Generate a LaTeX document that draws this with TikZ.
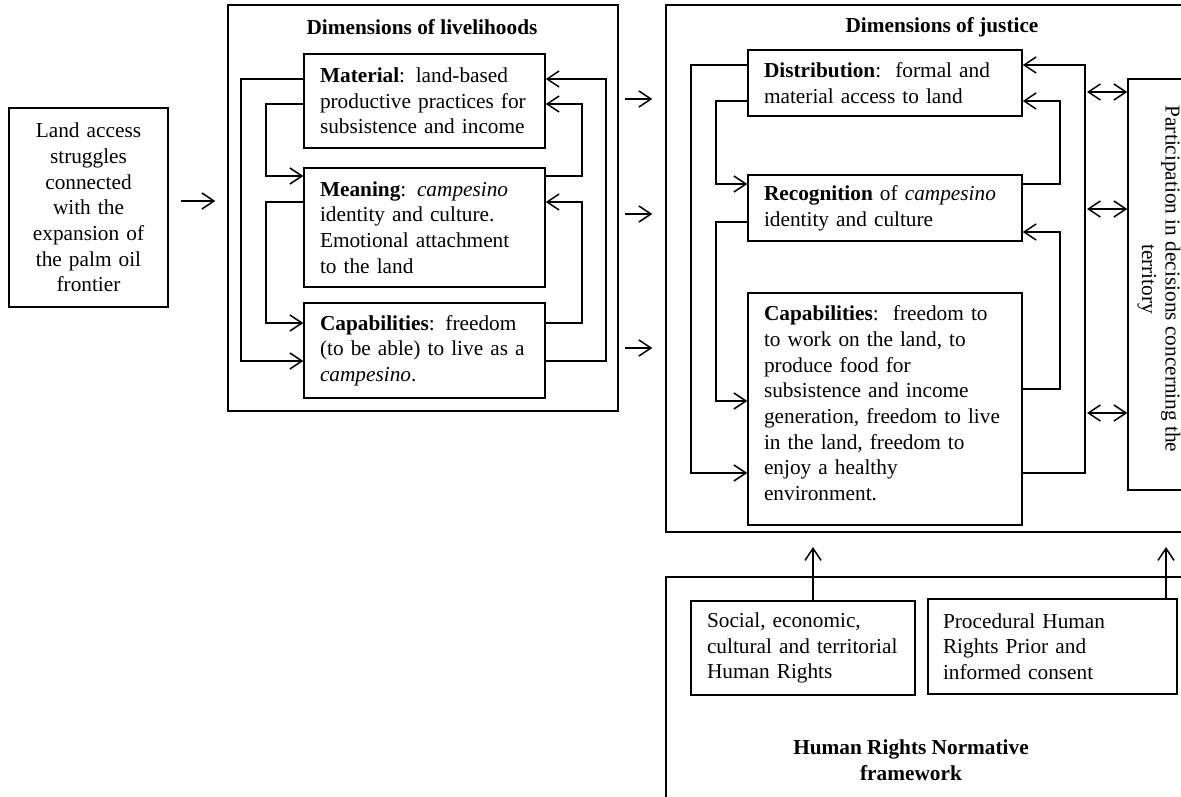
\documentclass[tikz,border=0pt]{standalone}
\usepackage{fontspec}
\setmainfont{Liberation Serif}
\usetikzlibrary{arrows.meta}
\begin{document}
\begin{tikzpicture}[x=1pt, y=-1pt,
  every node/.style={font=\fontsize{21.3}{25.7}\selectfont},
  frame/.style={draw, line width=1.5pt, inner sep=0pt},
  lbox/.style={draw, line width=1.5pt, inner xsep=16pt, inner ysep=0pt, align=left},
  cbox/.style={draw, line width=1.5pt, inner xsep=16pt, inner ysep=0pt, align=center},
  title/.style={font=\bfseries\fontsize{21.3}{25.7}\selectfont, align=center},
  link/.style={-{Straight Barb[length=12pt,width=16pt]}, line width=1.5pt},
  dlink/.style={{Straight Barb[length=12pt,width=16pt]}-{Straight Barb[length=12pt,width=16pt]}, line width=1.5pt}
]
\path[use as bounding box, fill=white] (0,0) rectangle (1181,797);
\clip (0,0) rectangle (1181,797);

% starting point
\node[cbox, minimum width=159pt, text width=127pt, minimum height=199pt] (land) at (88.5,207.5)
  {Land access\\struggles\\connected\\with the\\expansion of\\the palm oil\\frontier};

% livelihoods
\node[frame, minimum width=390pt, minimum height=406pt] (liv) at (423,208) {};
\node[title] (livt) at (422,27) {Dimensions of livelihoods};
\node[lbox, minimum width=241pt, text width=209pt, minimum height=94pt] (mat) at (424.5,101)
  {\textbf{Material}: land-based\\productive practices for\\subsistence and income};
\node[lbox, minimum width=241pt, text width=209pt, minimum height=119pt] (mea) at (424.5,227.5)
  {\textbf{Meaning}: \textit{campesino}\\identity and culture.\\Emotional attachment\\to the land};
\node[lbox, minimum width=241pt, text width=209pt, minimum height=95pt] (capa) at (424.5,350.5)
  {\textbf{Capabilities}: freedom\\(to be able) to live as a\\\textit{campesino}.};

\draw[link] (mat.west |- 0,79) -| (241,361) -- (capa.west |- 0,361);
\draw[link] (mat.west |- 0,104) -| (266,176) -- (mea.west |- 0,176);
\draw[link] (mea.west |- 0,202) -| (266,323) -- (capa.west |- 0,323);
\draw[link] (capa.east |- 0,361) -| (606,79) -- (mat.east |- 0,79);
\draw[link] (mea.east |- 0,176) -| (582,104) -- (mat.east |- 0,104);
\draw[link] (capa.east |- 0,323) -| (582,202) -- (mea.east |- 0,202);

% justice
\node[frame, minimum width=540pt, minimum height=527pt] (jus) at (936,268.5) {};
\node[title] (just) at (942,27) {Dimensions of justice};
\node[lbox, minimum width=274pt, text width=242pt, minimum height=66pt] (dist) at (885,83)
  {\textbf{Distribution}:\, formal and\\material access to land};
\node[lbox, minimum width=274pt, text width=242pt, minimum height=66pt] (rec) at (885,208)
  {\textbf{Recognition} of \textit{campesino}\\identity and culture};
\node[lbox, minimum width=274pt, text width=242pt, minimum height=232pt] (capb) at (885,409)
  {\textbf{Capabilities}:\, freedom to\\to work on the land, to\\produce food for\\subsistence and income\\generation, freedom to live\\in the land, freedom to\\enjoy a healthy\\environment.\\[-14pt]\mbox{}};

\draw[link] (dist.west |- 0,65) -| (691,473) -- (capb.west |- 0,473);
\draw[link] (dist.west |- 0,101) -| (716,184) -- (rec.west |- 0,184);
\draw[link] (rec.west |- 0,222) -| (716,401) -- (capb.west |- 0,401);
\draw[link] (capb.east |- 0,473) -| (1085,65) -- (dist.east |- 0,65);
\draw[link] (rec.east |- 0,184) -| (1060,101) -- (dist.east |- 0,101);
\draw[link] (capb.east |- 0,389) -| (1060,232) -- (rec.east |- 0,232);

% participation
\node[frame, minimum width=70pt, minimum height=411pt] (part) at (1163,284.5) {};
\node[rotate=-90, align=center, font=\fontsize{21.3}{23.5}\selectfont] (partt) at (1159,279)
  {Participation in decisions concerning the\\territory};
\coordinate (rail) at (1087,0);
\draw[dlink] (rail |- 0,92) -- (part.west |- 0,92);
\draw[dlink] (rail |- 0,209) -- (part.west |- 0,209);
\draw[dlink] (rail |- 0,413) -- (part.west |- 0,413);

% transitions between the groups
\draw[link] ([xshift=12pt]land.east |- 0,201) -- ([xshift=-12pt]liv.west |- 0,201);
\draw[link] ([xshift=6pt]liv.east |- 0,99) -- ([xshift=-13pt]jus.west |- 0,99);
\draw[link] ([xshift=6pt]liv.east |- 0,214) -- ([xshift=-13pt]jus.west |- 0,214);
\draw[link] ([xshift=6pt]liv.east |- 0,348) -- ([xshift=-13pt]jus.west |- 0,348);

% human rights framework
\node[frame, minimum width=540pt, minimum height=240pt] (hr) at (936,697) {};
\node[lbox, minimum width=224pt, text width=192pt, minimum height=94pt] (soc) at (803,648)
  {Social, economic,\\cultural and territorial\\Human Rights};
\node[lbox, inner xsep=15pt, minimum width=249pt, text width=219pt, minimum height=95pt] (pro) at (1052.5,646.5)
  {Procedural Human\\Rights Prior and\\informed consent};
\node[title] (hrt) at (911,760) {Human Rights Normative\\framework};
\coordinate (tipa) at (813,547);
\coordinate (tipb) at (1166,547);
\draw[link] (soc.north -| tipa) -- (tipa);
\draw[link] (pro.north -| tipb) -- (tipb);
\end{tikzpicture}
\end{document}
